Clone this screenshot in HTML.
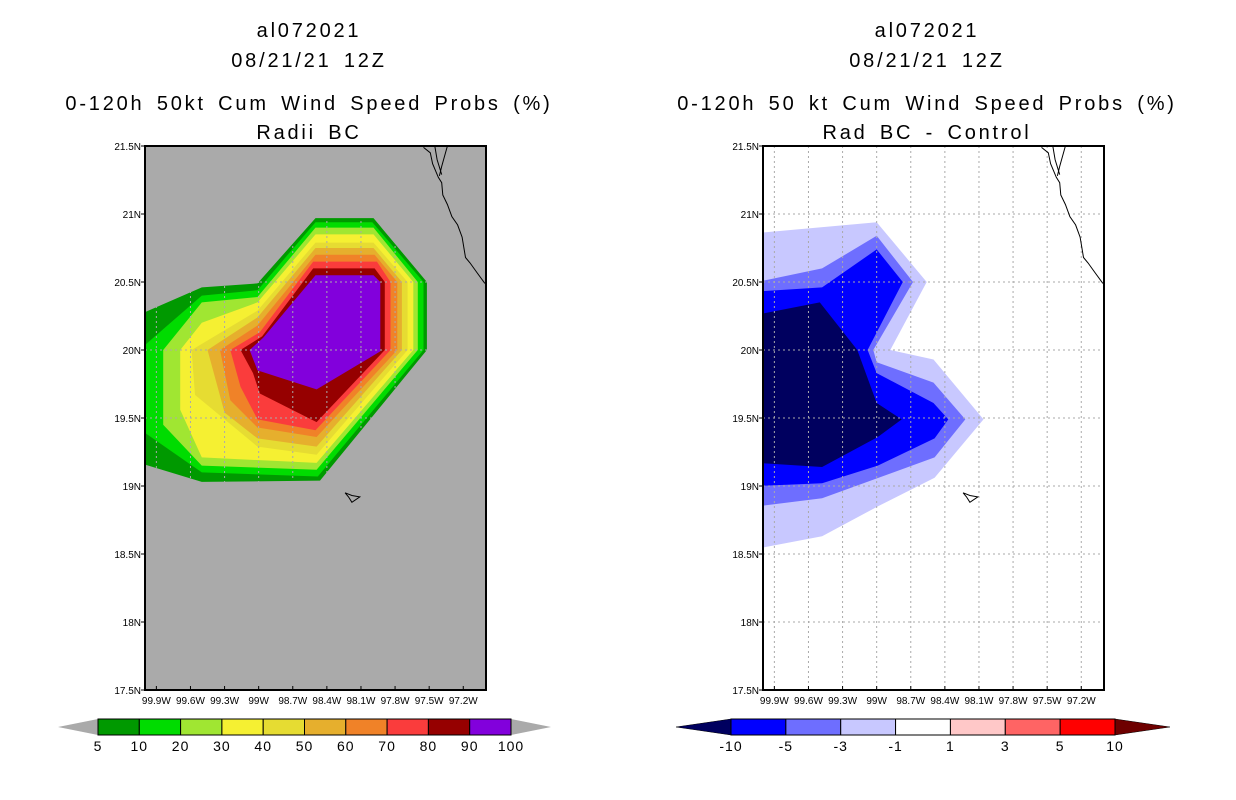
<!DOCTYPE html>
<html><head><meta charset="utf-8"><style>
body{margin:0;background:#fff;}
svg{display:block;font-family:"Liberation Sans",sans-serif;}
.t{font-size:20px;letter-spacing:2.8px;word-spacing:4px;text-anchor:middle;}
.tk{font-size:10px;}
</style></head><body>
<svg id="svg" width="1236" height="800" xmlns="http://www.w3.org/2000/svg">
<defs>
<clipPath id="clipL"><rect x="145" y="146" width="341" height="544"/></clipPath>
<clipPath id="clipR"><rect x="763" y="146" width="341" height="544"/></clipPath>
</defs>
<g>
<text class="t" x="309" y="37">al072021</text>
<text class="t" x="309" y="67">08/21/21 12Z</text>
<text class="t" x="309" y="110">0-120h 50kt Cum Wind Speed Probs (%)</text>
<text class="t" x="309" y="139">Radii BC</text>
</g>
<g>
<text class="t" x="927" y="37">al072021</text>
<text class="t" x="927" y="67">08/21/21 12Z</text>
<text class="t" x="927" y="110">0-120h 50 kt Cum Wind Speed Probs (%)</text>
<text class="t" x="927" y="139">Rad BC - Control</text>
</g>
</svg>
<script>
// Axis extents
const lonMin=-100, lonMax=-97, latMin=17.5, latMax=21.5;
const lonTicks=[-99.9,-99.6,-99.3,-99,-98.7,-98.4,-98.1,-97.8,-97.5,-97.2];
const lonTickLabels=["99.9W","99.6W","99.3W","99W","98.7W","98.4W","98.1W","97.8W","97.5W","97.2W"];
const latTicks=[17.5,18,18.5,19,19.5,20,20.5,21,21.5];
const latTickLabels=["17.5N","18N","18.5N","19N","19.5N","20N","20.5N","21N","21.5N"];

// Left panel: probability contour levels (outer to inner) as [lon,lat] polygons
const probLevels=[5,10,20,30,40,50,60,70,80,90];
const probColors=["#009900","#00dc00","#a0e632","#f5f032","#e6dc32","#e6af2d","#f08228","#fa3c3c","#960000","#8200dc"];
const probPolys=[
 [[-100.05,20.26],[-99.5,20.46],[-99.01,20.49],[-98.5,20.97],[-97.99,20.97],[-97.52,20.5],[-97.52,20.0],[-98.46,19.04],[-99.5,19.03],[-100.05,19.17]],
 [[-100.05,20.0],[-99.5,20.40],[-99.01,20.44],[-98.5,20.94],[-98.0,20.94],[-97.55,20.5],[-97.55,20.0],[-98.48,19.07],[-99.5,19.10],[-100.05,19.42]],
 [[-99.84,20.0],[-99.5,20.35],[-99.01,20.39],[-98.5,20.90],[-97.99,20.90],[-97.60,20.5],[-97.60,20.0],[-98.49,19.12],[-99.5,19.15],[-99.84,19.45]],
 [[-99.69,20.0],[-99.5,20.20],[-99.01,20.35],[-98.5,20.85],[-97.99,20.85],[-97.64,20.5],[-97.64,20.0],[-98.49,19.17],[-99.5,19.21],[-99.69,19.56]],
 [[-99.59,20.0],[-99.01,20.29],[-98.5,20.79],[-97.99,20.79],[-97.69,20.5],[-97.69,20.0],[-98.49,19.23],[-99.01,19.29],[-99.56,19.67]],
 [[-99.45,20.0],[-99.01,20.24],[-98.5,20.75],[-97.99,20.75],[-97.74,20.5],[-97.74,20.0],[-98.49,19.29],[-99.01,19.35],[-99.30,19.54]],
 [[-99.34,20.0],[-99.01,20.18],[-98.5,20.70],[-97.98,20.70],[-97.78,20.5],[-97.78,20.0],[-98.49,19.36],[-99.01,19.43],[-99.25,19.63]],
 [[-99.25,20.0],[-98.99,20.13],[-98.52,20.65],[-97.96,20.65],[-97.84,20.5],[-97.84,20.0],[-98.50,19.41],[-99.01,19.49],[-99.16,19.73]],
 [[-99.16,20.0],[-98.97,20.10],[-98.52,20.60],[-97.98,20.60],[-97.89,20.5],[-97.89,20.0],[-98.49,19.47],[-98.99,19.68],[-99.05,19.83]],
 [[-99.08,20.0],[-98.96,20.09],[-98.5,20.55],[-97.99,20.55],[-97.93,20.5],[-97.93,19.99],[-98.49,19.71],[-99.01,19.85]]
];

// Right panel: difference contours (outer to inner)
const diffLevels=[-1,-3,-5,-10];
const diffColors=["#c8c8ff","#6e6eff","#0000ff","#00005f"];
const diffPolys=[
 [[-100.05,20.86],[-99.0,20.94],[-98.56,20.5],[-98.88,20.0],[-98.50,19.93],[-98.06,19.49],[-98.49,19.06],[-98.99,18.85],[-99.48,18.63],[-100.05,18.54]],
 [[-100.05,20.5],[-99.48,20.60],[-99.0,20.84],[-98.68,20.5],[-99.03,20.0],[-99.0,19.91],[-98.5,19.76],[-98.22,19.49],[-98.49,19.21],[-99.48,18.91],[-100.05,18.85]],
 [[-100.05,20.43],[-99.48,20.46],[-99.0,20.74],[-98.77,20.5],[-99.08,20.0],[-99.0,19.83],[-98.5,19.61],[-98.37,19.49],[-98.49,19.35],[-98.99,19.15],[-99.48,19.02],[-100.05,19.0]],
 [[-100.05,20.26],[-99.5,20.35],[-99.17,20.0],[-99.0,19.61],[-98.78,19.49],[-98.99,19.36],[-99.48,19.14],[-100.05,19.17]]
];

// Coastline and island
const coastMain=[[-97.55,21.49],[-97.49,21.45],[-97.47,21.37],[-97.42,21.27],[-97.39,21.23],[-97.38,21.14],[-97.34,21.07],[-97.30,20.98],[-97.25,20.92],[-97.21,20.83],[-97.18,20.68],[-97.14,20.64],[-97.08,20.57],[-97.01,20.49]];
const coastBranch1=[[-97.45,21.5],[-97.43,21.40],[-97.39,21.29]];
const coastBranch2=[[-97.34,21.5],[-97.39,21.35],[-97.41,21.28]];
const island=[[-98.24,18.95],[-98.18,18.93],[-98.11,18.92],[-98.18,18.88],[-98.21,18.92]];

// Colorbars
const leftBarLabels=["5","10","20","30","40","50","60","70","80","90","100"];
const rightBarLabels=["-10","-5","-3","-1","1","3","5","10"];
const rightBarColors=["#0000ff","#6e6eff","#c8c8ff","#ffffff","#ffc8c8","#ff6464","#ff0000"];

const svg=document.getElementById('svg');
const NS="http://www.w3.org/2000/svg";
function mk(tag,attrs,parent){const e=document.createElementNS(NS,tag);for(const k in attrs)e.setAttribute(k,attrs[k]);(parent||svg).appendChild(e);return e;}

function panel(x0,side){
  const W=341,H=544,y0=146;
  const xs=lon=>x0+(lon-lonMin)/(lonMax-lonMin)*W;
  const ys=lat=>y0+(latMax-lat)/(latMax-latMin)*H;
  const pts=p=>p.map(q=>xs(q[0]).toFixed(1)+","+ys(q[1]).toFixed(1)).join(" ");
  const g=mk('g',{});
  
  
  const bg=mk('rect',{x:x0,y:y0,width:W,height:H,fill:side==='left'?'#aaaaaa':'#ffffff'},g);
  
  
  const cg=mk('g',{'clip-path':side==='left'?'url(#clipL)':'url(#clipR)'},g);
  const polys=side==='left'?probPolys:diffPolys;
  const cols=side==='left'?probColors:diffColors;
  polys.forEach((p,i)=>{
    const e=mk('polygon',{points:pts(p),fill:cols[i]},cg);
    
    
  });
  lonTicks.forEach(v=>{
    const e=mk('line',{x1:xs(v),x2:xs(v),y1:y0,y2:y0+H,stroke:'#aaaaaa','stroke-width':1,'stroke-dasharray':'2,3'},cg);
    
    
  });
  latTicks.forEach(v=>{
    const e=mk('line',{x1:x0,x2:x0+W,y1:ys(v),y2:ys(v),stroke:'#aaaaaa','stroke-width':1,'stroke-dasharray':'2,3'},cg);
    
    
  });
  [coastMain,coastBranch1,coastBranch2].forEach(c=>{
    const e=mk('polyline',{points:pts(c),fill:'none',stroke:'#000','stroke-width':1},cg);
    
    
  });
  const isl=mk('polygon',{points:pts(island),fill:'none',stroke:'#000','stroke-width':1},cg);
  
  
  const fr=mk('rect',{x:x0,y:y0,width:W,height:H,fill:'none',stroke:'#000','stroke-width':2},g);
  
  
  lonTicks.forEach((v,i)=>{
    mk('line',{x1:xs(v),x2:xs(v),y1:y0+H,y2:y0+H-4,stroke:'#000'},g);
    const t=mk('text',{x:xs(v),y:y0+H+14,'text-anchor':'middle',class:'tk'},g);
    t.textContent=lonTickLabels[i];
    
    
  });
  latTicks.forEach((v,i)=>{
    mk('line',{x1:x0,x2:x0-4,y1:ys(v),y2:ys(v),stroke:'#000'},g);
    const t=mk('text',{x:x0-4,y:ys(v)+4,'text-anchor':'end',class:'tk'},g);
    t.textContent=latTickLabels[i];
    
    
  });
}
panel(145,'left');
panel(763,'right');

function colorbar(x0,x1,triW,labels,colors,leftTri,rightTri,name){
  const g=mk('g',{});
  
  
  const y0=719,y1=735,ym=727;
  const n=colors.length, bw=(x1-x0)/n;
  mk('polygon',{points:`${x0-triW},${ym} ${x0},${y0} ${x0},${y1}`,fill:leftTri,stroke:leftTri==='#aaaaaa'?'none':'#000','stroke-width':0.5},g);
  mk('polygon',{points:`${x1+triW},${ym} ${x1},${y0} ${x1},${y1}`,fill:rightTri,stroke:rightTri==='#aaaaaa'?'none':'#000','stroke-width':0.5},g);
  colors.forEach((c,i)=>{
    const r=mk('rect',{x:x0+i*bw,y:y0,width:bw,height:y1-y0,fill:c,stroke:'#000','stroke-width':1},g);
    
    
  });
  labels.forEach((l,i)=>{
    const t=mk('text',{x:x0+i*bw,y:751,'text-anchor':'middle','font-size':'14px','letter-spacing':'1px'},g);
    t.textContent=l;
    
    
  });
}
colorbar(98,511,40,leftBarLabels,probColors,'#aaaaaa','#aaaaaa','left-colorbar');
colorbar(731,1115,55,rightBarLabels,rightBarColors,'#00005f','#6e0000','right-colorbar');
</script>
</body></html>
